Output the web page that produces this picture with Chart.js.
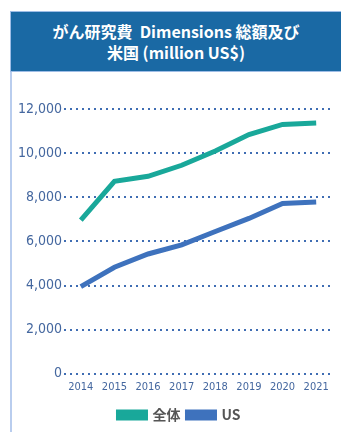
<!DOCTYPE html>
<html>
<head>
<meta charset="utf-8">
<script src="https://cdn.jsdelivr.net/npm/chart.js@4/dist/chart.umd.min.js"></script>
<style>
    body { margin: 0; background: #fff; width: 342px; height: 432px; overflow: hidden; position: relative; }
    #frame { position: absolute; left: 10px; top: 12px; width: 2px; height: 420px; background: #b9cdee; }
    #title {
        position: absolute; left: 10px; top: 11px; width: 330px; height: 59px;
        background: #1a69a4; border: 1px solid #9ebde6; border-right: none;
        color: #fff; font-family: "Noto Sans CJK JP", sans-serif; font-weight: bold;
        font-size: 16px; line-height: 21px; text-align: center;
        display: flex; flex-direction: column; justify-content: center;
    }
    #wrap { position: absolute; left: 12px; top: 72px; width: 330px; height: 360px; }
</style>
</head>
<body>
<div id="frame"></div>
<div id="title"><div>がん研究費&nbsp;&nbsp;Dimensions 総額及び</div><div>米国 (million US$)</div></div>
<div id="wrap"><canvas id="chart"></canvas></div>
<script>
const years = ['2014', '2015', '2016', '2017', '2018', '2019', '2020', '2021'];
const totalValues = [6960, 8720, 8950, 9450, 10100, 10840, 11300, 11370];
const usValues = [3950, 4830, 5430, 5840, 6450, 7040, 7720, 7790];
const seriesNames = ['全体', 'US'];

const tickColor = '#44679f';
const gridColor = '#3f6db3';

// the original legend sits a bit right of the canvas centre
const legendShift = {
    id: 'legendShift',
    afterLayout(chart) {
        chart.legend.left += 7;
        chart.legend.right += 7;
    }
};

new Chart(
    document.getElementById('chart'),
    {
        type: 'line',
        plugins: [legendShift],
        data: {
            labels: years,
            datasets: [
                {
                    label: seriesNames[0],
                    data: totalValues,
                    borderColor: '#19a89a',
                    backgroundColor: '#19a89a',
                    borderWidth: 5,
                    pointRadius: 0,
                    tension: 0,
                }, {
                    label: seriesNames[1],
                    data: usValues,
                    borderColor: '#3e72bd',
                    backgroundColor: '#3e72bd',
                    borderWidth: 5,
                    pointRadius: 0,
                    tension: 0,
                },
            ]
        },
        options: {
            responsive: true,
            maintainAspectRatio: false,
            animation: false,
            layout: {
                padding: { top: 37, right: 9, left: 0, bottom: 0 }
            },
            scales: {
                x: {
                    offset: true,
                    grid: { display: false, drawTicks: false },
                    border: { display: false },
                    ticks: {
                        color: tickColor,
                        padding: 7,
                        maxRotation: 0,
                        font: { family: 'DejaVu Sans Condensed', size: 11 },
                    }
                },
                y: {
                    min: 0,
                    max: 12000,
                    afterFit: (axis) => { axis.width = 52; },
                    grid: {
                        color: gridColor,
                        lineWidth: 2,
                        drawTicks: false,
                    },
                    border: { display: false, dash: [2, 4] },
                    ticks: {
                        stepSize: 2000,
                        color: tickColor,
                        padding: 2,
                        font: { family: 'DejaVu Sans Condensed', size: 14 },
                        callback: (value) => value.toLocaleString('en-US'),
                    }
                }
            },
            plugins: {
                legend: {
                    position: 'bottom',
                    labels: {
                        boxWidth: 27,
                        boxHeight: 6,
                        padding: 7,
                        color: '#555',
                        font: { family: 'Noto Sans CJK JP', size: 14, weight: 'bold' },
                    }
                },
                tooltip: { enabled: false }
            }
        }
    }
);
</script>
</body>
</html>
